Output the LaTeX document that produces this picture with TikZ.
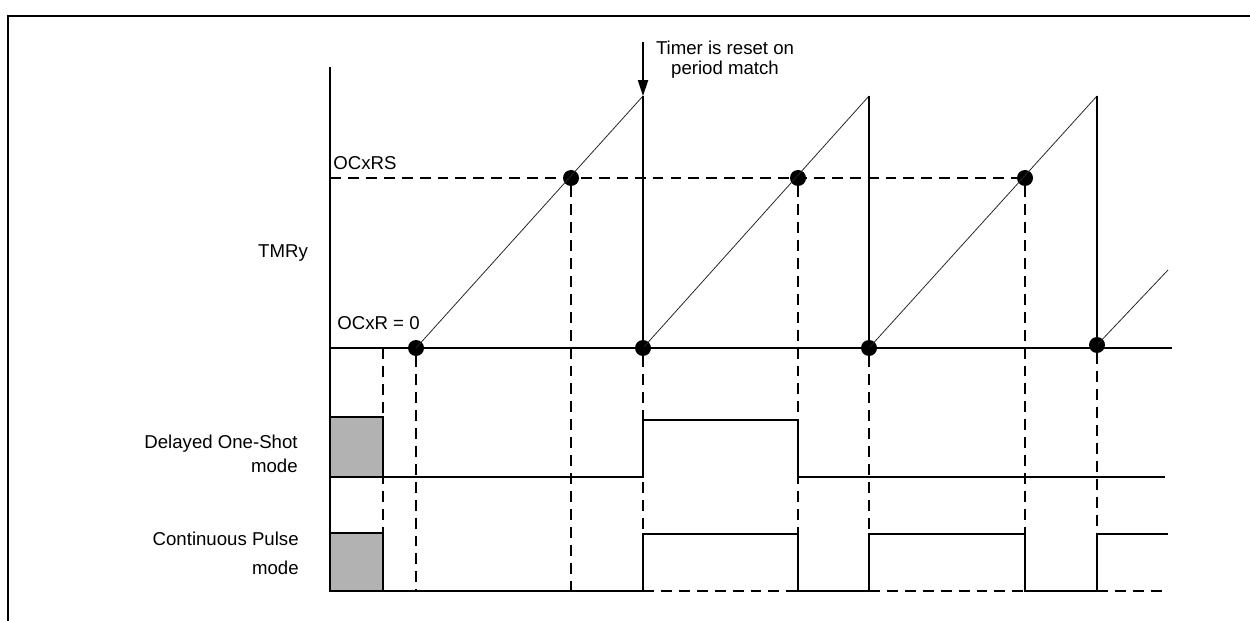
\documentclass[tikz,border=0pt]{standalone}
\usepackage{fontspec}
\setmainfont{Liberation Sans}
\usetikzlibrary{arrows.meta}

\begin{document}
\begin{tikzpicture}[x=0.02cm, y=-0.02cm]
    \tikzset{dot/.style={circle, fill=black, inner sep=0pt, minimum size=0.32cm}}
    \tikzset{guide/.style={dash pattern=on 6.2pt off 4pt, line width=0.75pt}}
    \tikzset{wave/.style={line width=0.75pt}}
    \tikzset{ramp/.style={line width=0.45pt, black!85}}
    \tikzset{lbl/.style={inner sep=0pt, font=\fontsize{10.6}{12.5}\selectfont}}
    \tikzset{hatch/.style={draw, line width=0.75pt, fill=black!30}}

    \useasboundingbox (0,0) rectangle (1250,621);
    \draw[line width=0.9pt] (8,621) -- (8,16) -- (1250,16);

    % axes
    \draw[wave] (330,67) -- (330,591);
    \draw[wave] (330,348) -- (1172,348);

    % timer ramps
    \coordinate(p_0) at (643,96);
    \coordinate(p_1) at (869,96);
    \coordinate(p_2) at (1097,96);
    \coordinate(p_3) at (1168,270);

    \node[dot](z_0) at (416,348) {};
    \node[dot](z_1) at (643,348) {};
    \node[dot](z_2) at (869,348) {};
    \node[dot](z_3) at (1097,345) {};

    \node[dot](m_0) at (571,178) {};
    \node[dot](m_1) at (798,178) {};
    \node[dot](m_2) at (1025,178) {};

    \draw[guide] (330,178) -- (m_2.center);

    \draw[ramp] (z_0.center) -- (p_0);
    \draw[ramp] (z_1.center) -- (p_1);
    \draw[ramp] (z_2.center) -- (p_2);
    \draw[ramp] (z_3.center) -- (p_3);
    \draw[wave] (p_0) -- (z_1.center);
    \draw[wave] (p_1) -- (z_2.center);
    \draw[wave] (p_2) -- (z_3.center);

    % reset arrow
    \coordinate(a_0) at (643,42);
    \draw[line width=0.75pt, -{Triangle[length=9pt, width=5.8pt]}] (a_0) -- (p_0);
    \node[lbl, align=center, font=\fontsize{10.6}{11.3}\selectfont](reset) at (725,60) {Timer is reset on\\period match};

    % labels
    \node[lbl, anchor=west](ocxrs) at (333,163) {OCxRS};
    \node[lbl, anchor=west](ocxr) at (337,323) {OCxR = 0};
    \node[lbl](tmry) at (283,253) {TMRy};
    \node[lbl, anchor=east, align=right, font=\fontsize{10.6}{13.6}\selectfont](oneshot) at (298,454) {Delayed One-Shot\\mode};
    \node[lbl, anchor=east, align=right, font=\fontsize{10.6}{16.4}\selectfont](pulse) at (299,553) {Continuous Pulse\\mode};

    % vertical guides
    \draw[guide] (383,348) -- (383,591);
    \draw[guide] (z_0) -- (416,591);
    \draw[guide] (m_0) -- (571,591);
    \draw[guide] (z_1) -- (643,591);
    \draw[guide] (m_1) -- (798,591);
    \draw[guide] (z_2) -- (869,591);
    \draw[guide] (m_2) -- (1025,591);
    \draw[guide] (z_3) -- (1097,534);

    % outputs
    \draw[hatch] (330,417) rectangle (383,477);
    \draw[hatch] (330,533) rectangle (383,591);

    \draw[wave] (330,477) -- (643,477) -- (643,420) -- (798,420) -- (798,477) -- (1165,477);

    \draw[wave] (330,591) -- (643,591) -- (643,534) -- (798,534) -- (798,591) -- (869,591)
        -- (869,534) -- (1025,534) -- (1025,591) -- (1097,591) -- (1097,534) -- (1168,534);
    \draw[guide] (643,591) -- (798,591);
    \draw[guide] (869,591) -- (1025,591);
    \draw[guide] (1097,591) -- (1168,591);

\end{tikzpicture}
\end{document}
